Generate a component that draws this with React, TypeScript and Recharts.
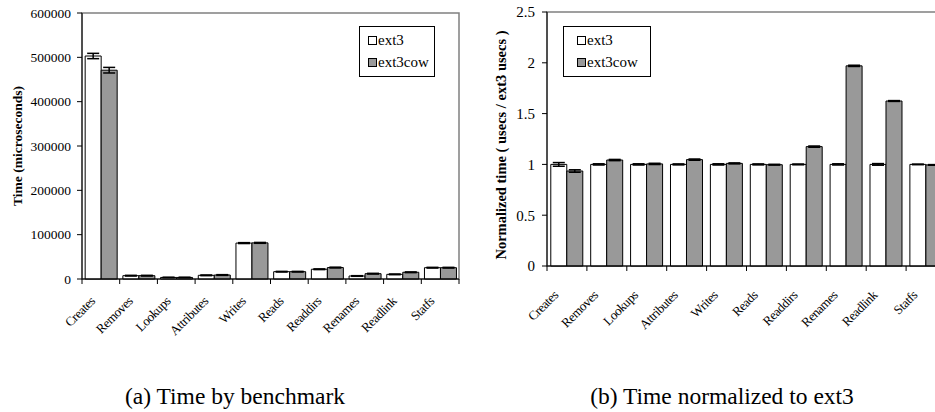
import { BarChart, Bar, XAxis, YAxis, ErrorBar, Legend, ReferenceArea, Label, Text } from 'recharts';

const benchmarks = ['Creates', 'Removes', 'Lookups', 'Attributes', 'Writes', 'Reads', 'Readdirs', 'Renames', 'Readlink', 'Statfs'];

// (a) time in microseconds
const ext3Time = [503000, 7500, 3500, 8300, 81000, 16500, 22000, 6800, 10500, 25500];
const ext3TimeErr = [6000, 800, 400, 800, 1000, 700, 800, 700, 800, 800];
const ext3cowTime = [471000, 7500, 3500, 9000, 81500, 16500, 25800, 12000, 15200, 25500];
const ext3cowTimeErr = [6300, 800, 400, 800, 1000, 700, 900, 800, 800, 800];
const timeTicks = [0, 100000, 200000, 300000, 400000, 500000, 600000];

// (b) normalized to ext3
const ext3Norm = [1, 1, 1, 1, 1, 1, 1, 1, 1, 1];
const ext3NormErr = [0.018, 0.006, 0.006, 0.005, 0.006, 0.005, 0.004, 0.006, 0.008, 0.003];
const ext3cowNorm = [0.935, 1.043, 1.005, 1.047, 1.01, 0.997, 1.175, 1.97, 1.624, 0.995];
const ext3cowNormErr = [0.012, 0.006, 0.006, 0.006, 0.005, 0.004, 0.006, 0.006, 0.004, 0.003];
const normTicks = [0, 0.5, 1, 1.5, 2, 2.5];

const timeData = benchmarks.map((name, i) => ({
  name,
  ext3: ext3Time[i],
  ext3Err: ext3TimeErr[i],
  ext3cow: ext3cowTime[i],
  ext3cowErr: ext3cowTimeErr[i],
}));

const normData = benchmarks.map((name, i) => ({
  name,
  ext3: ext3Norm[i],
  ext3Err: ext3NormErr[i],
  ext3cow: ext3cowNorm[i],
  ext3cowErr: ext3cowNormErr[i],
}));

const FONT = "'Liberation Serif', serif";
const GRAY = '#999999';

function makeCategoryTick(dx: number, dy: number) {
  return function CategoryTick(props: any) {
    const { x, y, payload, index } = props;
    const half = payload.offset || 0;
    const isLast = index === benchmarks.length - 1;
    return (
      <g>
        <line x1={x - half} y1={y} x2={x - half} y2={y + 5} stroke="#000" />
        {isLast && <line x1={x + half} y1={y} x2={x + half} y2={y + 5} stroke="#000" />}
        <Text
          x={x + dx}
          y={y + dy}
          angle={-45}
          textAnchor="end"
          verticalAnchor="end"
          fontFamily={FONT}
          fontSize={13}
          letterSpacing={-0.4}
          fill="#000"
        >
          {payload.value}
        </Text>
      </g>
    );
  };
}

function axisTitle(text: string, offsetX: number, shiftY: number, size: number) {
  return function Title(props: any) {
    const vb = props.viewBox;
    const cx = vb.x + offsetX;
    const cy = vb.y + vb.height / 2 + shiftY;
    return (
      <Text
        x={cx}
        y={cy}
        angle={-90}
        textAnchor="middle"
        verticalAnchor="middle"
        fontFamily={FONT}
        fontWeight="bold"
        fontSize={size}
        fill="#000"
      >
        {text}
      </Text>
    );
  };
}

function BoxLegend({ padLeft, padRight }: { padLeft: number; padRight: number }) {
  const items = [
    { name: 'ext3', fill: '#fff' },
    { name: 'ext3cow', fill: GRAY },
  ];
  return (
    <div
      style={{
        border: '1px solid #000',
        background: '#fff',
        padding: `2px ${padRight}px 3px ${padLeft}px`,
        fontFamily: FONT,
        fontSize: 15,
        lineHeight: '22px',
        color: '#000',
      }}
    >
      {items.map((it) => (
        <div key={it.name} style={{ display: 'flex', alignItems: 'center', whiteSpace: 'nowrap' }}>
          <span
            style={{
              display: 'inline-block',
              width: 7,
              height: 7,
              border: '1px solid #000',
              background: it.fill,
              marginRight: 1,
            }}
          />
          {it.name}
        </div>
      ))}
    </div>
  );
}

function TimeChart() {
  return (
    <BarChart
      width={470}
      height={365}
      data={timeData}
      margin={{ top: 13, right: 11, left: 0, bottom: 36 }}
      barCategoryGap="8.4%"
      barGap={0}
    >
      <ReferenceArea x1="Creates" x2="Statfs" y1={0} y2={600000} fill="none" stroke="#808080" strokeWidth={1.5} />
      <XAxis
        dataKey="name"
        height={50}
        interval={0}
        axisLine={{ stroke: '#000' }}
        tickLine={false}
        tickSize={0}
        tickMargin={0}
        tick={makeCategoryTick(-5, 23)}
      />
      <YAxis
        width={82}
        domain={[0, 600000]}
        ticks={timeTicks}
        interval={0}
        axisLine={{ stroke: '#000' }}
        tickLine={{ stroke: '#000' }}
        tickSize={5}
        tickMargin={6}
        tick={{ fontSize: 13.5, fill: '#000', fontFamily: FONT }}
      >
        <Label content={axisTitle('Time (microseconds)', 17.5, 0, 13.5)} />
      </YAxis>
      <Legend
        layout="vertical"
        align="center"
        verticalAlign="middle"
        wrapperStyle={{ top: 26, left: 359, width: 'auto' }}
        content={() => <BoxLegend padLeft={8} padRight={5} />}
      />
      <Bar dataKey="ext3" fill="#fff" stroke="#000" strokeWidth={1} isAnimationActive={false}>
        <ErrorBar dataKey="ext3Err" width={6} stroke="#000" strokeWidth={1.5} direction="y" />
      </Bar>
      <Bar dataKey="ext3cow" fill={GRAY} stroke="#000" strokeWidth={1} isAnimationActive={false}>
        <ErrorBar dataKey="ext3cowErr" width={6} stroke="#000" strokeWidth={1.5} direction="y" />
      </Bar>
    </BarChart>
  );
}

function NormChart() {
  return (
    <BarChart
      width={486}
      height={360}
      data={normData}
      margin={{ top: 12, right: 10, left: 0, bottom: 44 }}
      barCategoryGap="9.5%"
      barGap={0}
    >
      <ReferenceArea x1="Creates" x2="Statfs" y1={0} y2={2.5} fill="none" stroke="#808080" strokeWidth={1.5} />
      <XAxis
        dataKey="name"
        height={50}
        interval={0}
        axisLine={{ stroke: '#000' }}
        tickLine={false}
        tickSize={0}
        tickMargin={0}
        tick={makeCategoryTick(-8, 30)}
      />
      <YAxis
        width={77}
        domain={[0, 2.5]}
        ticks={normTicks}
        interval={0}
        axisLine={{ stroke: '#000' }}
        tickLine={{ stroke: '#000' }}
        tickSize={5}
        tickMargin={7}
        tick={{ fontSize: 15, fill: '#000', fontFamily: FONT }}
      >
        <Label content={axisTitle('Normalized time ( usecs / ext3 usecs )', 30.5, 6, 14.5)} />
      </YAxis>
      <Legend
        layout="vertical"
        align="center"
        verticalAlign="middle"
        wrapperStyle={{ top: 26, left: 93, width: 'auto' }}
        content={() => <BoxLegend padLeft={13} padRight={12} />}
      />
      <Bar dataKey="ext3" fill="#fff" stroke="#000" strokeWidth={1} isAnimationActive={false}>
        <ErrorBar dataKey="ext3Err" width={6} stroke="#000" strokeWidth={1.5} direction="y" />
      </Bar>
      <Bar dataKey="ext3cow" fill={GRAY} stroke="#000" strokeWidth={1} isAnimationActive={false}>
        <ErrorBar dataKey="ext3cowErr" width={6} stroke="#000" strokeWidth={1.5} direction="y" />
      </Bar>
    </BarChart>
  );
}

const captionStyle = {
  position: 'absolute' as const,
  top: 382,
  width: 400,
  textAlign: 'center' as const,
  fontFamily: FONT,
  fontSize: 23.5,
  color: '#000',
  lineHeight: '28px',
  whiteSpace: 'nowrap' as const,
};

export default function App() {
  return (
    <div style={{ position: 'fixed', left: 0, top: 0, width: 935, height: 412, overflow: 'hidden', background: '#fff' }}>
      <div style={{ position: 'absolute', left: 0, top: 0 }}>
        <TimeChart />
      </div>
      <div style={{ position: 'absolute', left: 470, top: 0 }}>
        <NormChart />
      </div>
      <div style={{ ...captionStyle, left: 35 }}>(a) Time by benchmark</div>
      <div style={{ ...captionStyle, left: 522 }}>(b) Time normalized to ext3</div>
    </div>
  );
}
